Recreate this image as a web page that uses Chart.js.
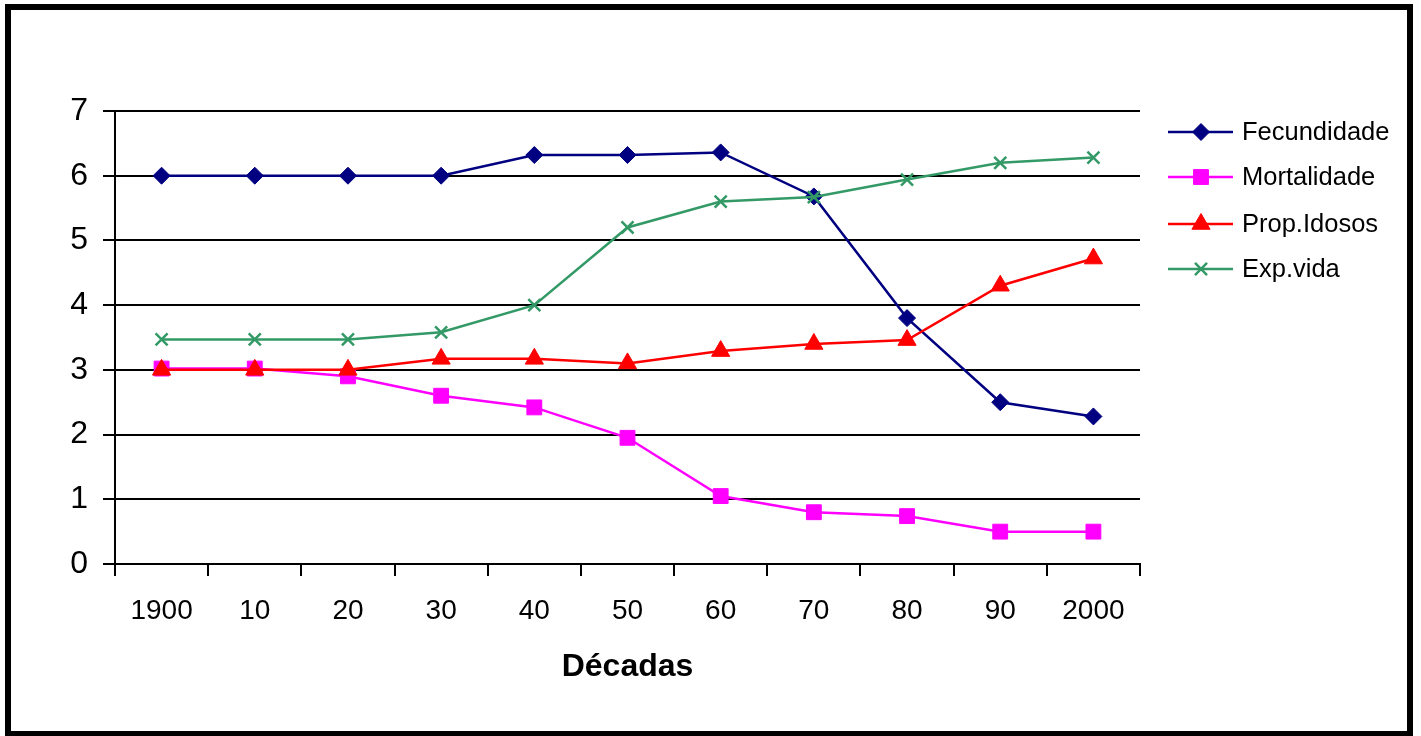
<!DOCTYPE html>
<html>
<head>
<meta charset="utf-8">
<title>Décadas</title>
<script src="https://cdn.jsdelivr.net/npm/chart.js@4.4.0/dist/chart.umd.min.js"></script>
<style>
  html, body { margin: 0; padding: 0; background: #fff; overflow: hidden; }
  #wrap { position: relative; width: 1421px; height: 736px; }
  #frame {
    position: absolute; left: 5px; top: 4px; width: 1408px; height: 733px;
    border: 6px solid #000; box-sizing: border-box; pointer-events: none;
  }
  canvas { position: absolute; left: 0; top: 0; }
</style>
</head>
<body>
<div id="wrap">
  <canvas id="chart" width="1421" height="736"></canvas>
  <div id="frame"></div>
</div>
<script>
// Decades on the category axis
const decadas = ['1900', '10', '20', '30', '40', '50', '60', '70', '80', '90', '2000'];

// Series values per decade
const fecundidade = [6, 6, 6, 6, 6.32, 6.32, 6.36, 5.68, 3.8, 2.5, 2.28];
const mortalidade = [3.02, 3.02, 2.9, 2.6, 2.42, 1.95, 1.05, 0.8, 0.74, 0.5, 0.5];
const propIdosos  = [3, 3, 3, 3.17, 3.17, 3.1, 3.29, 3.4, 3.46, 4.3, 4.72];
const expVida     = [3.47, 3.47, 3.47, 3.58, 4, 5.2, 5.6, 5.67, 5.94, 6.2, 6.28];

// Value axis ticks
const yTicks = [0, 1, 2, 3, 4, 5, 6, 7];

const FONT = "'Liberation Sans', Arial, Helvetica, sans-serif";
Chart.defaults.font.family = FONT;
Chart.defaults.color = '#000';

const datasets = [
  { label: 'Fecundidade', data: fecundidade, borderColor: '#000080', backgroundColor: '#000080',
    pointStyle: 'rectRot', pointRadius: 8.5, pointBorderWidth: 1, borderWidth: 2.5, order: 4 },
  { label: 'Mortalidade', data: mortalidade, borderColor: '#FF00FF', backgroundColor: '#FF00FF',
    pointStyle: 'rect', pointRadius: 10.5, pointBorderWidth: 1, borderWidth: 2.5, order: 3 },
  { label: 'Prop.Idosos', data: propIdosos, borderColor: '#FF0000', backgroundColor: '#FF0000',
    pointStyle: 'triangle', pointRadius: 10.5, pointBorderWidth: 1, borderWidth: 2.5, order: 2 },
  { label: 'Exp.vida', data: expVida, borderColor: '#339966', backgroundColor: '#339966',
    pointStyle: 'crossRot', pointRadius: 8.5, pointBorderWidth: 2.5, borderWidth: 2.5, order: 1 }
];

// Legend on the right: line segment with the series marker, then the label
const sideLegend = {
  id: 'sideLegend',
  afterDraw(chart) {
    const ctx = chart.ctx;
    const rows = [132, 177, 224, 269];
    const x0 = 1168, x1 = 1233, xm = 1201, xt = 1242;
    chart.data.datasets.forEach((ds, i) => {
      const y = rows[i];
      ctx.save();
      ctx.strokeStyle = ds.borderColor;
      ctx.lineWidth = ds.borderWidth;
      ctx.beginPath();
      ctx.moveTo(x0, y);
      ctx.lineTo(x1, y);
      ctx.stroke();
      ctx.fillStyle = ds.backgroundColor;
      ctx.strokeStyle = ds.borderColor;
      ctx.lineWidth = ds.pointBorderWidth;
      Chart.helpers.drawPoint(ctx, {
        pointStyle: ds.pointStyle, radius: ds.pointRadius, rotation: 0, borderWidth: ds.pointBorderWidth
      }, xm, y);
      ctx.fillStyle = '#000';
      ctx.font = '25.5px ' + FONT;
      ctx.textAlign = 'left';
      ctx.textBaseline = 'middle';
      ctx.fillText(ds.label, xt, y + 1);
      ctx.restore();
    });
  }
};

new Chart(document.getElementById('chart'), {
  type: 'line',
  data: { labels: decadas, datasets },
  plugins: [sideLegend],
  options: {
    responsive: false,
    animation: false,
    devicePixelRatio: 1,
    layout: { padding: { left: 0, top: 111, right: 281, bottom: 0 } },
    plugins: { legend: { display: false }, tooltip: { enabled: false } },
    elements: { line: { tension: 0, fill: false } },
    scales: {
      x: {
        type: 'category',
        offset: true,
        afterFit(scale) { scale.height = 172; },
        grid: {
          offset: true, drawOnChartArea: false, drawTicks: true,
          tickLength: 12, color: '#000', lineWidth: 2
        },
        border: { display: true, color: '#000', width: 2 },
        ticks: { font: { size: 28 }, color: '#000', padding: 18, maxRotation: 0, autoSkip: false },
        title: {
          display: true, text: 'Décadas', color: '#000',
          font: { size: 32, weight: 'bold' }, padding: { top: 0, bottom: 50 }
        }
      },
      y: {
        min: 0, max: 7,
        afterFit(scale) { scale.width = 115; },
        afterBuildTicks(scale) { scale.ticks = yTicks.map(v => ({ value: v })); },
        grid: { color: '#000', lineWidth: 2, drawTicks: true, tickLength: 12 },
        border: { display: true, color: '#000', width: 2 },
        ticks: { font: { size: 32 }, color: '#000', padding: 15 }
      }
    }
  }
});
</script>
</body>
</html>
